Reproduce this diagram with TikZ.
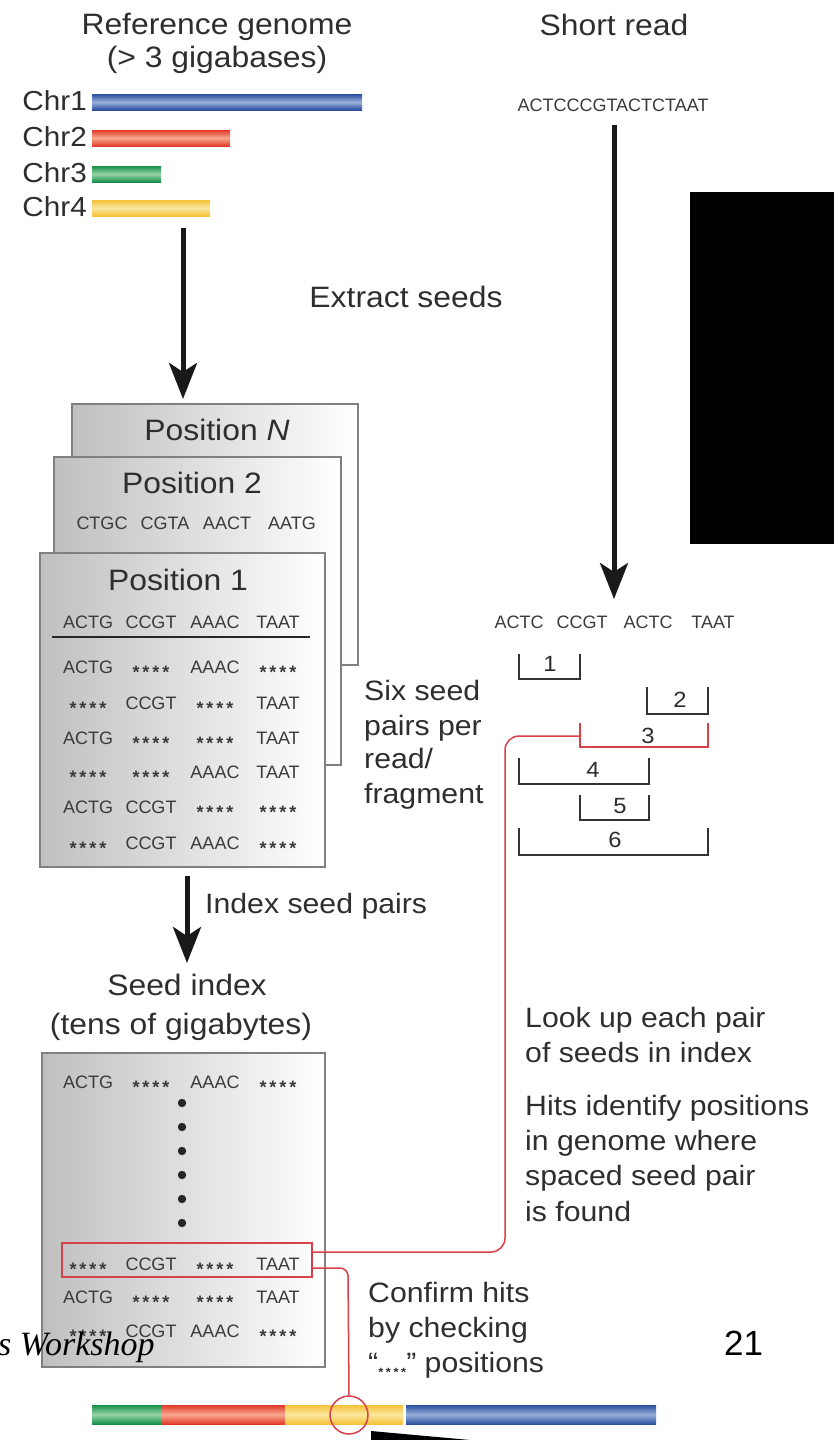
\documentclass[tikz,border=0pt]{standalone}
\usepackage{fontspec}
\setmainfont{Liberation Sans}[FakeStretch=1.08]
\newfontfamily\seqf{Liberation Sans}
\newfontfamily\timesf{Liberation Serif}
\usetikzlibrary{arrows.meta,calc}
\definecolor{txt}{HTML}{2E2E2E}
\definecolor{seqc}{HTML}{3A3A3A}
\definecolor{redl}{HTML}{D8404A}
\definecolor{bluD}{HTML}{2A4F9E}\definecolor{bluL}{HTML}{9AB0DC}
\definecolor{redD}{HTML}{E23A28}\definecolor{redL}{HTML}{F7A98F}
\definecolor{grnD}{HTML}{159048}\definecolor{grnL}{HTML}{98D4A8}
\definecolor{ylwD}{HTML}{F5C238}\definecolor{ylwL}{HTML}{FCE6A0}
\newcommand\onest{\raisebox{-5.5pt}{\bfseries *}}
\newcommand\st{\makebox[37pt][s]{\onest\hfill\onest\hfill\onest\hfill\onest}}
\newcommand\onesm{\raisebox{-4pt}{\bfseries\fontsize{12}{12}\selectfont *}}
\newcommand\smst{\makebox[28pt][s]{\onesm\hfill\onesm\hfill\onesm\hfill\onesm}}
\tikzset{
  lab/.style={inner sep=0pt, text=txt, font=\fontsize{29.5}{31}\selectfont, anchor=base},
  rlab/.style={inner sep=0pt, text=txt, font=\fontsize{28}{30}\selectfont, anchor=base west},
  seq/.style={inner sep=0pt, text=seqc, font=\seqf\fontsize{18}{18}\selectfont, anchor=base},
  brk/.style={draw=black!80, line width=1.5pt},
  brklab/.style={inner sep=0pt, text=txt, font=\fontsize{22}{22}\selectfont},
  bigarrow/.style={line width=5pt, draw=black!90, -{Stealth[length=36pt,width=28pt,inset=9pt]}},
  graybox/.style={left color=black!25, right color=white, draw=black!50, line width=1.2pt},
  redln/.style={draw=redl, line width=1.5pt},
}
\begin{document}
\begin{tikzpicture}[x=1pt,y=-1pt]
\useasboundingbox (0,0) rectangle (838,1440);
% ---------- Reference genome ----------
\node[lab] (refT) at (217,34) {Reference genome};
\node[lab] (refS) at (217,67) {(> 3 gigabases)};
\foreach \yy/\xe/\cD/\cL [count=\i] in {110/362/bluD/bluL,146/230/redD/redL,182/161/grnD/grnL,216/210/ylwD/ylwL}{
  \shade[top color=\cD, bottom color=\cD, middle color=\cL] (92,\yy-16) rectangle (\xe,\yy);
  \node[inner sep=0pt, text=txt, font=\fontsize{27.5}{28}\selectfont, anchor=base east] (chr\i) at (87,\yy) {Chr\i};
}
\coordinate (refA) at (183,228);
\coordinate (refB) at (183,399);
\draw[bigarrow] (refA) -- (refB);
\node[lab] (extr) at (406,307) {Extract seeds};
% ---------- Short read ----------
\node[lab] (shortT) at (614,35) {Short read};
\node[seq] (readseq) at (613,111) {ACTCCCGTACTCTAAT};
\coordinate (srA) at (614,125);
\coordinate (srB) at (614,599);
\draw[bigarrow] (srA) -- (srB);
\foreach \w/\xx [count=\j] in {ACTC/519,CCGT/582,ACTC/648,TAAT/713}{
  \node[seq] (rw\j) at (\xx,628) {\w};
}
% brackets
\draw[brk] (519,654) -- (519,679) -- (580,679) -- (580,654);
\node[brklab] (bl1) at (550,664) {1};
\draw[brk] (647,687) -- (647,714) -- (708,714) -- (708,687);
\node[brklab] (bl2) at (680,700) {2};
\draw[redln] (580,723) -- (580,747) -- (708,747) -- (708,723);
\node[brklab] (bl3) at (648,736) {3};
\draw[brk] (519,758) -- (519,784) -- (649,784) -- (649,758);
\node[brklab] (bl4) at (593,770) {4};
\draw[brk] (580,795) -- (580,820) -- (649,820) -- (649,795);
\node[brklab] (bl5) at (620,806) {5};
\draw[brk] (519,828) -- (519,855) -- (708,855) -- (708,828);
\node[brklab] (bl6) at (615,840) {6};
\coordinate (b3l) at (580,736);
% ---------- stacked boxes ----------
\shade[graybox] (72,404) rectangle (358,665);
\node[lab] (posN) at (217,440) {Position \textit{N}};
\shade[graybox] (54,457) rectangle (341,765);
\node[lab] (pos2) at (192,493) {Position 2};
\foreach \w/\xx [count=\j] in {CTGC/102,CGTA/165,AACT/227,AATG/292}{
  \node[seq] (p2w\j) at (\xx,529) {\w};
}
\shade[graybox] (40,553) rectangle (325,867);
\node[lab] (pos1) at (178,590) {Position 1};
\foreach \w/\xx [count=\j] in {ACTG/88,CCGT/151,AAAC/215,TAAT/278}{
  \node[seq] (p1h\j) at (\xx,628) {\w};
}
\draw[line width=1.8pt, black!85] (52,637) -- (310,637);
\foreach \yy/\a/\b/\c/\d [count=\i] in {673/ACTG/\st/AAAC/\st, 709/\st/CCGT/\st/TAAT, 744/ACTG/\st/\st/TAAT, 778/\st/\st/AAAC/TAAT, 813/ACTG/CCGT/\st/\st, 849/\st/CCGT/AAAC/\st}{
  \foreach \w/\xx [count=\j] in {\a/88,\b/151,\c/215,\d/278}{
    \node[seq] (p1r\i c\j) at (\xx,\yy) {\w};
  }
}
\node[rlab] (six1) at (364,700) {Six seed};
\node[rlab] (six2) at (364,735) {pairs per};
\node[rlab] (six3) at (364,768) {read/};
\node[rlab] (six4) at (364,803) {fragment};
% ---------- index ----------
\coordinate (ixA) at (187,876);
\coordinate (ixB) at (187,963);
\draw[bigarrow] (ixA) -- (ixB);
\node[rlab] (idxT) at (205,913) {Index seed pairs};
\node[lab] (seedT) at (187,995) {Seed index};
\node[lab] (seedS) at (181,1034) {(tens of gigabytes)};
\shade[graybox] (42,1053) rectangle (325,1367);
\foreach \w/\xx [count=\j] in {ACTG/88,\st/151,AAAC/215,\st/278}{
  \node[seq] (si1c\j) at (\xx,1088) {\w};
}
\foreach \yy [count=\i] in {1103,1127,1151,1175,1199,1223}{
  \fill[black!85] (182,\yy) circle (4.2pt);
}
\node[draw=redl, line width=1.8pt, minimum width=250pt, minimum height=34pt, inner sep=0pt] (hl) at (187,1260) {};
\foreach \w/\xx [count=\j] in {\st/88,CCGT/151,\st/215,TAAT/278}{
  \node[seq] (si2c\j) at (\xx,1270) {\w};
}
\foreach \w/\xx [count=\j] in {ACTG/88,\st/151,\st/215,TAAT/278}{
  \node[seq] (si3c\j) at (\xx,1303) {\w};
}
\foreach \w/\xx [count=\j] in {\st/88,CCGT/151,AAAC/215,\st/278}{
  \node[seq] (si4c\j) at (\xx,1337) {\w};
}
% ---------- right column texts ----------
\node[rlab] (lk1) at (525,1027) {Look up each pair};
\node[rlab] (lk2) at (525,1062) {of seeds in index};
\node[rlab] (ht1) at (525,1115) {Hits identify positions};
\node[rlab] (ht2) at (525,1150) {in genome where};
\node[rlab] (ht3) at (525,1185) {spaced seed pair};
\node[rlab] (ht4) at (525,1221) {is found};
\node[rlab] (cf1) at (368,1302) {Confirm hits};
\node[rlab] (cf2) at (368,1337) {by checking};
\node[rlab] (cf3) at (368,1372) {“\smst” positions};
% ---------- red connectors ----------
\draw[redln, rounded corners=14pt] ($(hl.east)+(0,-8)$) -- (505,1252) -- (505,736) -- (b3l);
% ---------- bottom genome ----------
\shade[top color=grnD, bottom color=grnD, middle color=grnL] (92,1405) rectangle (161,1424);
\shade[top color=redD, bottom color=redD, middle color=redL] (161,1405) rectangle (285,1424);
\shade[top color=ylwD, bottom color=ylwD, middle color=ylwL] (285,1405) rectangle (403,1424);
\shade[top color=bluD, bottom color=bluD, middle color=bluL] (406,1405) rectangle (656,1424);
\node[circle, draw=redl, line width=1.5pt, minimum size=38pt, inner sep=0pt] (hitc) at (349,1415) {};
\draw[redln, rounded corners=8pt] ($(hl.east)+(0,8)$) -- (348,1268) -- (hitc.north);
\fill[black] (371,1431) -- (470,1440) -- (371,1440) -- cycle;
% ---------- slide artefacts ----------
\fill[black] (690,192) rectangle (834,544);
\node[inner sep=0pt, anchor=base west, font=\timesf\itshape\fontsize{34}{34}\selectfont] (wk) at (-2,1355) {s Workshop};
\node[inner sep=0pt, anchor=base west, font=\seqf\fontsize{35}{35}\selectfont] (pg) at (724,1355) {21};
\end{tikzpicture}
\end{document}
